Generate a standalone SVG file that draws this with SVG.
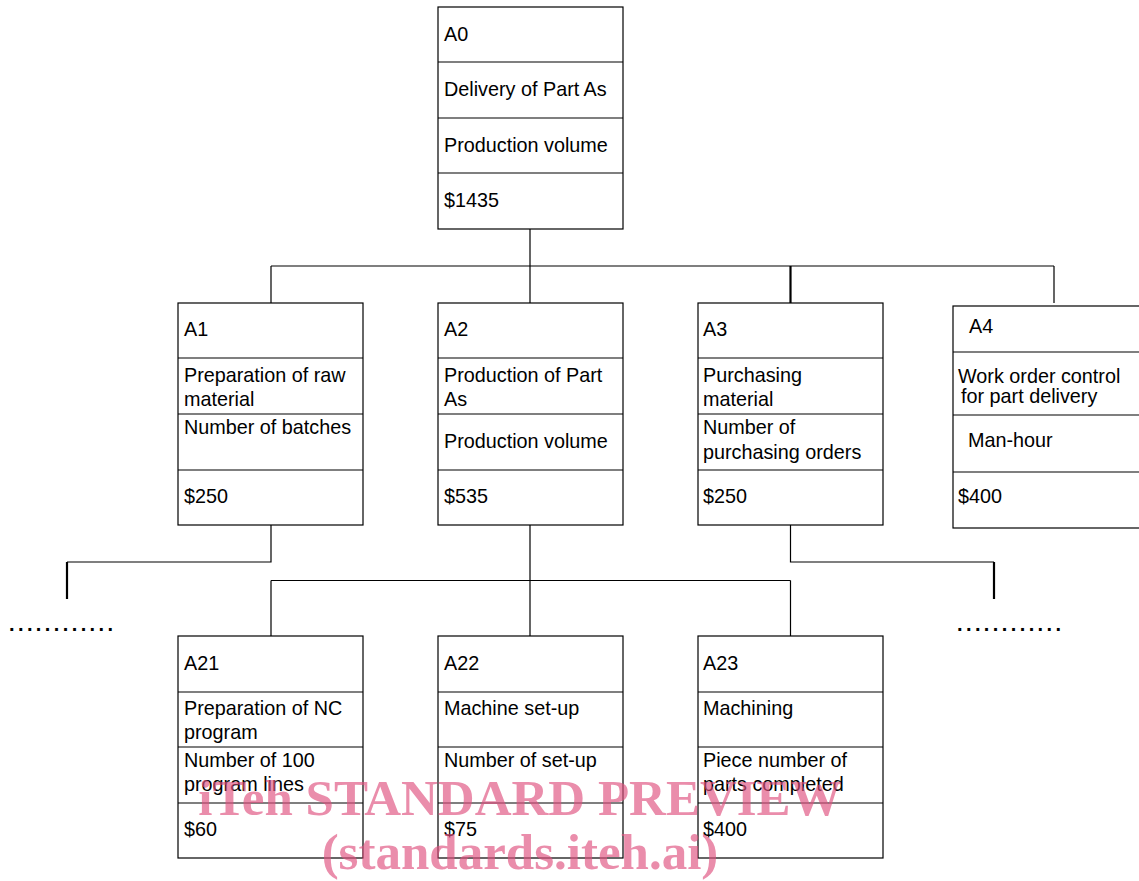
<svg xmlns="http://www.w3.org/2000/svg" width="1139" height="881" viewBox="0 0 1139 881">
<style>
.box{fill:#fff;stroke:#000;stroke-width:1.2}
.div{stroke:#000;stroke-width:1.2}
.t{font-family:"Liberation Sans",Arial,sans-serif;font-size:19.8px;fill:#000}
.c{stroke:#000;stroke-width:1.2;fill:none}
.ct{stroke:#000;stroke-width:2.2;fill:none}
.dots{font-family:"Liberation Sans",Arial,sans-serif;font-size:20px;font-weight:bold;fill:#000;letter-spacing:3.4px}
.wm{font-family:"Liberation Serif","Times New Roman",serif;font-weight:bold;font-size:51px;fill:#e0517f;opacity:0.65}
</style>
<rect width="1139" height="881" fill="#fff"/>
<g id="connectors">
<path class="c" d="M530 229V303M271 266H1054M271 266V303M530 266V303M1054 266V303"/>
<path class="ct" d="M790.5 266V303"/>
<path class="c" d="M271 525V562H67M790.5 525V562H994"/>
<path class="ct" d="M67 562V599M994 562V599"/>
<path class="c" d="M530 525V636M271 580.5H790.5M271 580.5V636M790.5 580.5V636"/>
</g>
<text class="dots" x="9" y="631">............</text>
<text class="dots" x="957" y="631">............</text>
<g id="A0">
<rect class="box" x="438" y="7" width="185" height="222"/>
<path class="div" d="M438 62H623M438 118H623M438 173H623"/>
<text class="t" x="444" y="41">A0</text>
<text class="t" x="444" y="96">Delivery of Part As</text>
<text class="t" x="444" y="152">Production volume</text>
<text class="t" x="444" y="207">$1435</text>
</g>
<g id="A1">
<rect class="box" x="178" y="303" width="185" height="222"/>
<path class="div" d="M178 358H363M178 414H363M178 470H363"/>
<text class="t" x="184" y="336">A1</text>
<text class="t" x="184" y="382">Preparation of raw</text>
<text class="t" x="184" y="406">material</text>
<text class="t" x="184" y="434">Number of batches</text>
<text class="t" x="184" y="503">$250</text>
</g>
<g id="A2">
<rect class="box" x="438" y="303" width="185" height="222"/>
<path class="div" d="M438 358H623M438 414H623M438 470H623"/>
<text class="t" x="444" y="336">A2</text>
<text class="t" x="444" y="382">Production of Part</text>
<text class="t" x="444" y="406">As</text>
<text class="t" x="444" y="448">Production volume</text>
<text class="t" x="444" y="503">$535</text>
</g>
<g id="A3">
<rect class="box" x="698" y="303" width="185" height="222"/>
<path class="div" d="M698 358H883M698 414H883M698 470H883"/>
<text class="t" x="703" y="336">A3</text>
<text class="t" x="703" y="382">Purchasing</text>
<text class="t" x="703" y="406">material</text>
<text class="t" x="703" y="434">Number of</text>
<text class="t" x="703" y="459">purchasing orders</text>
<text class="t" x="703" y="503">$250</text>
</g>
<g id="A4">
<rect class="box" x="953" y="306" width="190" height="222"/>
<path class="div" d="M953 352H1139M953 415H1139M953 472H1139"/>
<text class="t" x="969" y="333">A4</text>
<text class="t" x="958" y="383">Work order control</text>
<text class="t" x="961" y="403">for part delivery</text>
<text class="t" x="968" y="447">Man-hour</text>
<text class="t" x="958" y="503">$400</text>
</g>
<g id="A21">
<rect class="box" x="178" y="636" width="185" height="222"/>
<path class="div" d="M178 692H363M178 747H363M178 803H363"/>
<text class="t" x="184" y="670">A21</text>
<text class="t" x="184" y="715">Preparation of NC</text>
<text class="t" x="184" y="739">program</text>
<text class="t" x="184" y="767">Number of 100</text>
<text class="t" x="184" y="791">program lines</text>
<text class="t" x="184" y="836">$60</text>
</g>
<g id="A22">
<rect class="box" x="438" y="636" width="185" height="222"/>
<path class="div" d="M438 692H623M438 747H623M438 803H623"/>
<text class="t" x="444" y="670">A22</text>
<text class="t" x="444" y="715">Machine set-up</text>
<text class="t" x="444" y="767">Number of set-up</text>
<text class="t" x="444" y="836">$75</text>
</g>
<g id="A23">
<rect class="box" x="698" y="636" width="185" height="222"/>
<path class="div" d="M698 692H883M698 747H883M698 803H883"/>
<text class="t" x="703" y="670">A23</text>
<text class="t" x="703" y="715">Machining</text>
<text class="t" x="703" y="767">Piece number of</text>
<text class="t" x="703" y="791">parts completed</text>
<text class="t" x="703" y="836">$400</text>
</g>
<g id="watermark">
<text class="wm" x="520" y="815" text-anchor="middle">iTeh STANDARD PREVIEW</text>
<text class="wm" x="520" y="869" text-anchor="middle">(standards.iteh.ai)</text>
</g>
</svg>
